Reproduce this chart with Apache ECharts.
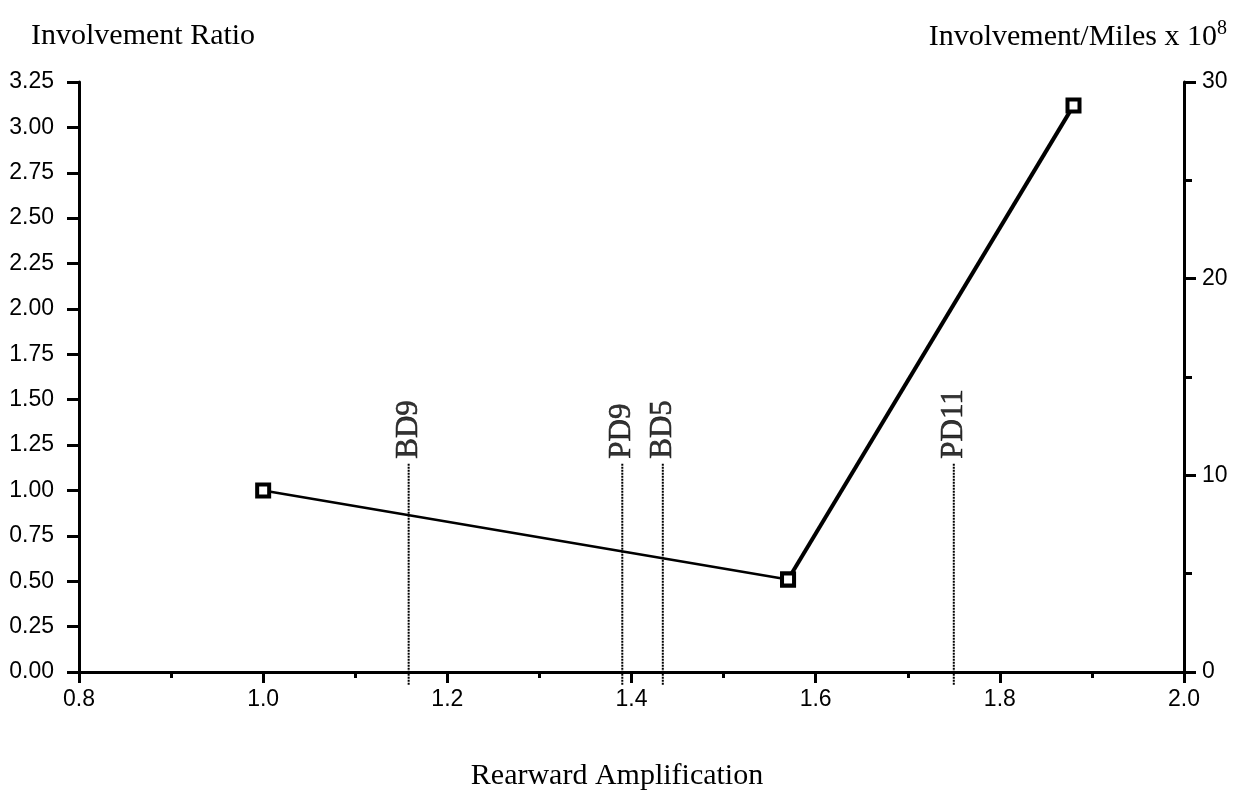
<!DOCTYPE html>
<html>
<head>
<meta charset="utf-8">
<script src="https://cdn.jsdelivr.net/npm/echarts@6/dist/echarts.min.js"></script>
<style>
  html, body { margin: 0; padding: 0; background: #fff; }
  #chart { width: 1244px; height: 796px; }
</style>
</head>
<body>
<div id="chart"></div>
<script>
// data
const amplification = [1.0, 1.57, 1.88]
const involvementRatio = [1.0, 0.51, 3.12]
const markerNames = ['BD9', 'PD9', 'BD5', 'PD11']
const markerX = [1.158, 1.39, 1.434, 1.75]
const markerTop = 1.15
const markerBottom = -0.07

const serif = '"Liberation Serif", "DejaVu Serif", serif'
const sans = '"Liberation Sans", Arial, sans-serif'

const chart = echarts.init(document.getElementById('chart'))

// two segments: the second one is drawn heavier in the original
const seg1 = [0, 1].map((i) => [amplification[i], involvementRatio[i]])
const seg2 = [1, 2].map((i) => [amplification[i], involvementRatio[i]])

// dotted vertical lines for each vehicle
const markerSeries = markerNames.map((name, i) => ({
  type: 'line',
  clip: false,
  symbol: 'none',
  z: 1,
  lineStyle: { color: '#000', width: 2, type: [2, 1] },
  data: [[markerX[i], markerBottom], [markerX[i], markerTop]],
}))

// rotated names sitting on top of the lines
const markerLabels = {
  type: 'scatter',
  symbol: 'rect',
  symbolSize: 1,
  itemStyle: { color: 'rgba(0,0,0,0)' },
  z: 2,
  label: {
    show: true,
    formatter: '{b}',
    position: 'top',
    distance: 4,
    rotate: 90,
    align: 'left',
    verticalAlign: 'middle',
    color: '#000',
    textBorderColor: '#000',
    textBorderWidth: 0.6,
    fontFamily: serif,
    fontSize: 31,
  },
  data: markerNames.map((name, i) => ({ name, value: [markerX[i], markerTop] })),
}

const pointStyle = {
  symbol: 'rect',
  symbolSize: 12,
  itemStyle: { color: '#fff', borderColor: '#000', borderWidth: 4 },
}

chart.setOption({
  animation: false,
  title: [
    {
      text: 'Involvement Ratio',
      left: 26, top: 16,
      textStyle: { fontFamily: serif, fontSize: 30, fontWeight: 'normal', color: '#000' },
    },
    {
      text: 'Involvement/Miles x 10{s|8}',
      right: 12, top: 14,
      textStyle: {
        fontFamily: serif, fontSize: 30, fontWeight: 'normal', color: '#000',
        rich: { s: { fontFamily: serif, fontSize: 20, verticalAlign: 'top', padding: [0, 0, 16, 0] } },
      },
    },
    {
      text: 'Rearward Amplification',
      left: 612, top: 756, textAlign: 'center',
      textStyle: { fontFamily: serif, fontSize: 30, fontWeight: 'normal', color: '#000' },
    },
  ],
  grid: { left: 79, right: 60, top: 82, bottom: 124 },
  xAxis: {
    type: 'value',
    min: 0.8, max: 2.0, interval: 0.2,
    axisLine: { onZero: false, lineStyle: { color: '#000', width: 3 } },
    axisTick: { length: 11, lineStyle: { color: '#000', width: 3 } },
    minorTick: { show: true, splitNumber: 2, length: 6, lineStyle: { color: '#000', width: 3 } },
    axisLabel: {
      margin: 16, color: '#000', fontFamily: sans, fontSize: 23,
      formatter: (v) => v.toFixed(1),
    },
    splitLine: { show: false },
  },
  yAxis: [
    {
      type: 'value',
      min: 0, max: 3.25, interval: 0.25,
      axisLine: { show: true, lineStyle: { color: '#000', width: 3 } },
      axisTick: { show: true, length: 12, lineStyle: { color: '#000', width: 3 } },
      axisLabel: {
        margin: 25, color: '#000', fontFamily: sans, fontSize: 23,
        formatter: (v) => v.toFixed(2),
      },
      splitLine: { show: false },
    },
    {
      type: 'value',
      position: 'right',
      min: 0, max: 30, interval: 10,
      axisLine: { show: true, lineStyle: { color: '#000', width: 3 } },
      axisTick: { show: true, length: 12, lineStyle: { color: '#000', width: 3 } },
      minorTick: { show: true, splitNumber: 2, length: 8, lineStyle: { color: '#000', width: 3 } },
      axisLabel: { margin: 18, color: '#000', fontFamily: sans, fontSize: 23 },
      splitLine: { show: false },
    },
  ],
  series: [
    ...markerSeries,
    markerLabels,
    {
      type: 'line',
      data: seg1,
      z: 3,
      lineStyle: { color: '#000', width: 2.5 },
      ...pointStyle,
    },
    {
      type: 'line',
      data: seg2,
      z: 3,
      lineStyle: { color: '#000', width: 4 },
      ...pointStyle,
    },
  ],
})

window.addEventListener('resize', () => chart.resize())
</script>
</body>
</html>
